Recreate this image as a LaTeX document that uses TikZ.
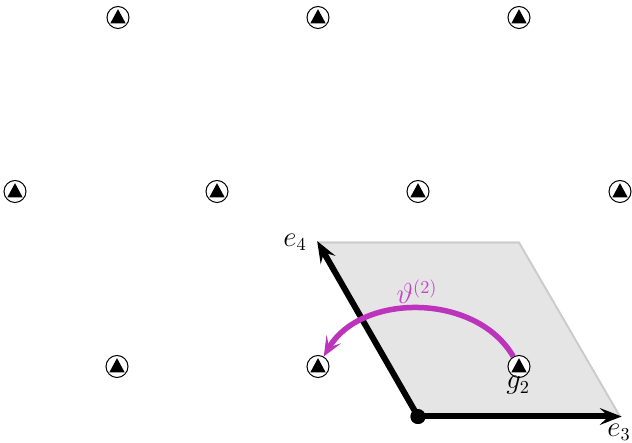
\documentclass[tikz,border=0pt]{standalone}
\usepackage{amsmath,amssymb}
\usepackage{xcolor}
\usetikzlibrary{arrows.meta,positioning}
\definecolor{arcmag}{HTML}{BC33BC}
\tikzset{
  site/.style={circle, draw=black, line width=0.6pt, fill=white, inner sep=0pt, minimum size=13.2pt,
               path picture={\fill[black] ([shift={(-4.6pt,-3.5pt)}]path picture bounding box.center)
                 -- ([shift={(4.6pt,-3.5pt)}]path picture bounding box.center)
                 -- ([shift={(0pt,5pt)}]path picture bounding box.center) -- cycle;}},
  basisarr/.style={-{Stealth[length=13pt,width=10pt,inset=5pt]}, line width=3.6pt, black, shorten >=-1pt},
  rotarr/.style={-{Stealth[length=12pt,width=10pt,inset=5.5pt]}, line width=3.3pt, arcmag},
  cell/.style={fill=black!10, draw=black!20, line width=1pt},
  lab/.style={font=\fontsize{16}{18}\selectfont, inner sep=0pt},
}
\begin{document}
\begin{tikzpicture}[x=0.6pt,y=0.6pt]
  \useasboundingbox (0,0.5) rectangle (632,443.5);
  \coordinate (e3end) at (620,27);
  \coordinate (e4end) at (318,201);
  \coordinate (corner) at (519,201);
  \node[circle, fill=black, inner sep=0pt, minimum size=9pt] (orig) at (418,27) {};
  \fill[cell] (orig.center) -- (e3end) -- (corner) -- (e4end) -- cycle;
  \draw[cell, fill=none] (e4end) -- (corner) -- (e3end);
  % lattice of sites
  \foreach \n/\x/\y in {a1/118/426, a2/318/426, a3/519/426,
                        b1/15/252, b2/217/252, b3/418/252, b4/620/252,
                        c1/117/77, c2/318/77, c3/519/77}
    \node[site] (\n) at (\x,\y) {};
  \draw[basisarr] (orig.center) -- (e3end);
  \draw[basisarr] (orig.center) -- (e4end);
  \node[circle, fill=black, inner sep=0pt, minimum size=9pt] at (orig) {};
  \draw[rotarr] (c3) to[out=120, in=60, looseness=1] (c2);
  \node[lab] at (295,201) {$e_4$};
  \node[lab] at (619,11) {$e_3$};
  \node[lab] at (518,58) {$g_2$};
  \node[lab, text=arcmag!90] at (417,152) {$\vartheta^{(2)}$};
\end{tikzpicture}
\end{document}
